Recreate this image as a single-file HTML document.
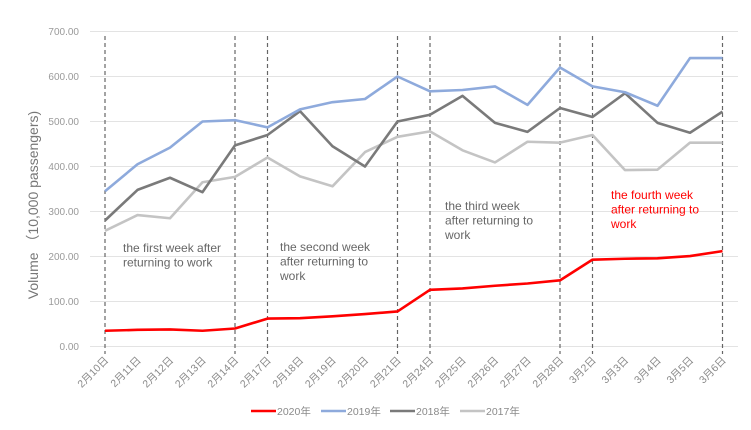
<!DOCTYPE html>
<html><head><meta charset="utf-8"><style>
html,body{margin:0;padding:0;background:#fff;width:751px;height:430px;overflow:hidden}
svg{display:block;font-family:"Liberation Sans","Noto Sans CJK SC",sans-serif}
</style></head><body>
<svg id="c" width="751" height="430" xmlns="http://www.w3.org/2000/svg"></svg>
<script>
const s=document.getElementById('c');
const X=i=>105+i*32.5, Y=v=>346.5-v*0.45;
let h='';
for(let v=0;v<=700;v+=100){h+=`<line x1="90" x2="738" y1="${Y(v)}" y2="${Y(v)}" stroke="#e3e3e3" stroke-width="1"/>`;
h+=`<text x="79" y="${Y(v)+3.5}" text-anchor="end" font-size="10" fill="#9a9a9a">${v.toFixed(2)}</text>`;}
const labels=['2月10日','2月11日','2月12日','2月13日','2月14日','2月17日','2月18日','2月19日','2月20日','2月21日','2月24日','2月25日','2月26日','2月27日','2月28日','3月2日','3月3日','3月4日','3月5日','3月6日'];
labels.forEach((l,i)=>{h+=`<text transform="translate(${X(i)+4},${361}) rotate(-45)" text-anchor="end" font-size="10.5" fill="#8a8a8a">${l}</text>`;});
[0,4,5,9,10,14,15,19].forEach(i=>{h+=`<line x1="${X(i)}" x2="${X(i)}" y1="36" y2="354" stroke="#666" stroke-width="1.2" stroke-dasharray="4,3"/>`;});
const d={
'#c4c4c4':[257,292,285,365,377,420,378,356,432,466,478,436,409,455,453,470,392,393,453,453],
'#7a7a7a':[280,348,375,343,447,470,523,445,400,500,515,557,497,477,530,510,563,497,475,522],
'#8eaadc':[345,405,442,500,503,487,527,543,550,600,567,570,578,537,620,578,565,535,641,641],
'#ff0000':[35,37,38,35,40,62,63,67,72,78,126,129,135,140,147,193,195,196,201,212]};
for(const c in d){h+=`<polyline fill="none" stroke="${c}" stroke-width="2.6" stroke-linejoin="round" points="${d[c].map((v,i)=>X(i)+','+Y(v)).join(' ')}"/>`;}
h+=`<text transform="translate(38,205) rotate(-90)" text-anchor="middle" font-size="14" fill="#777">Volume （10,000 passengers)</text>`;
const ann=(x,y,lines,col)=>lines.forEach((t,k)=>{h+=`<text x="${x}" y="${y+k*14.5}" font-size="12" fill="${col}">${t}</text>`;});
ann(123,252,['the first week after','returning to work'],'#666');
ann(280,251,['the second week','after returning to','work'],'#666');
ann(445,210,['the third week','after returning to','work'],'#666');
ann(611,199,['the fourth week','after returning to','work'],'#ff0000');
[['#ff0000','2020年',251],['#8eaadc','2019年',321],['#7a7a7a','2018年',390],['#c4c4c4','2017年',460]].forEach(([c,t,x])=>{
h+=`<line x1="${x}" x2="${x+25}" y1="411" y2="411" stroke="${c}" stroke-width="2.6"/><text x="${x+26}" y="415" font-size="10.5" fill="#8a8a8a">${t}</text>`;});
s.innerHTML=h;
</script>
</body></html>
